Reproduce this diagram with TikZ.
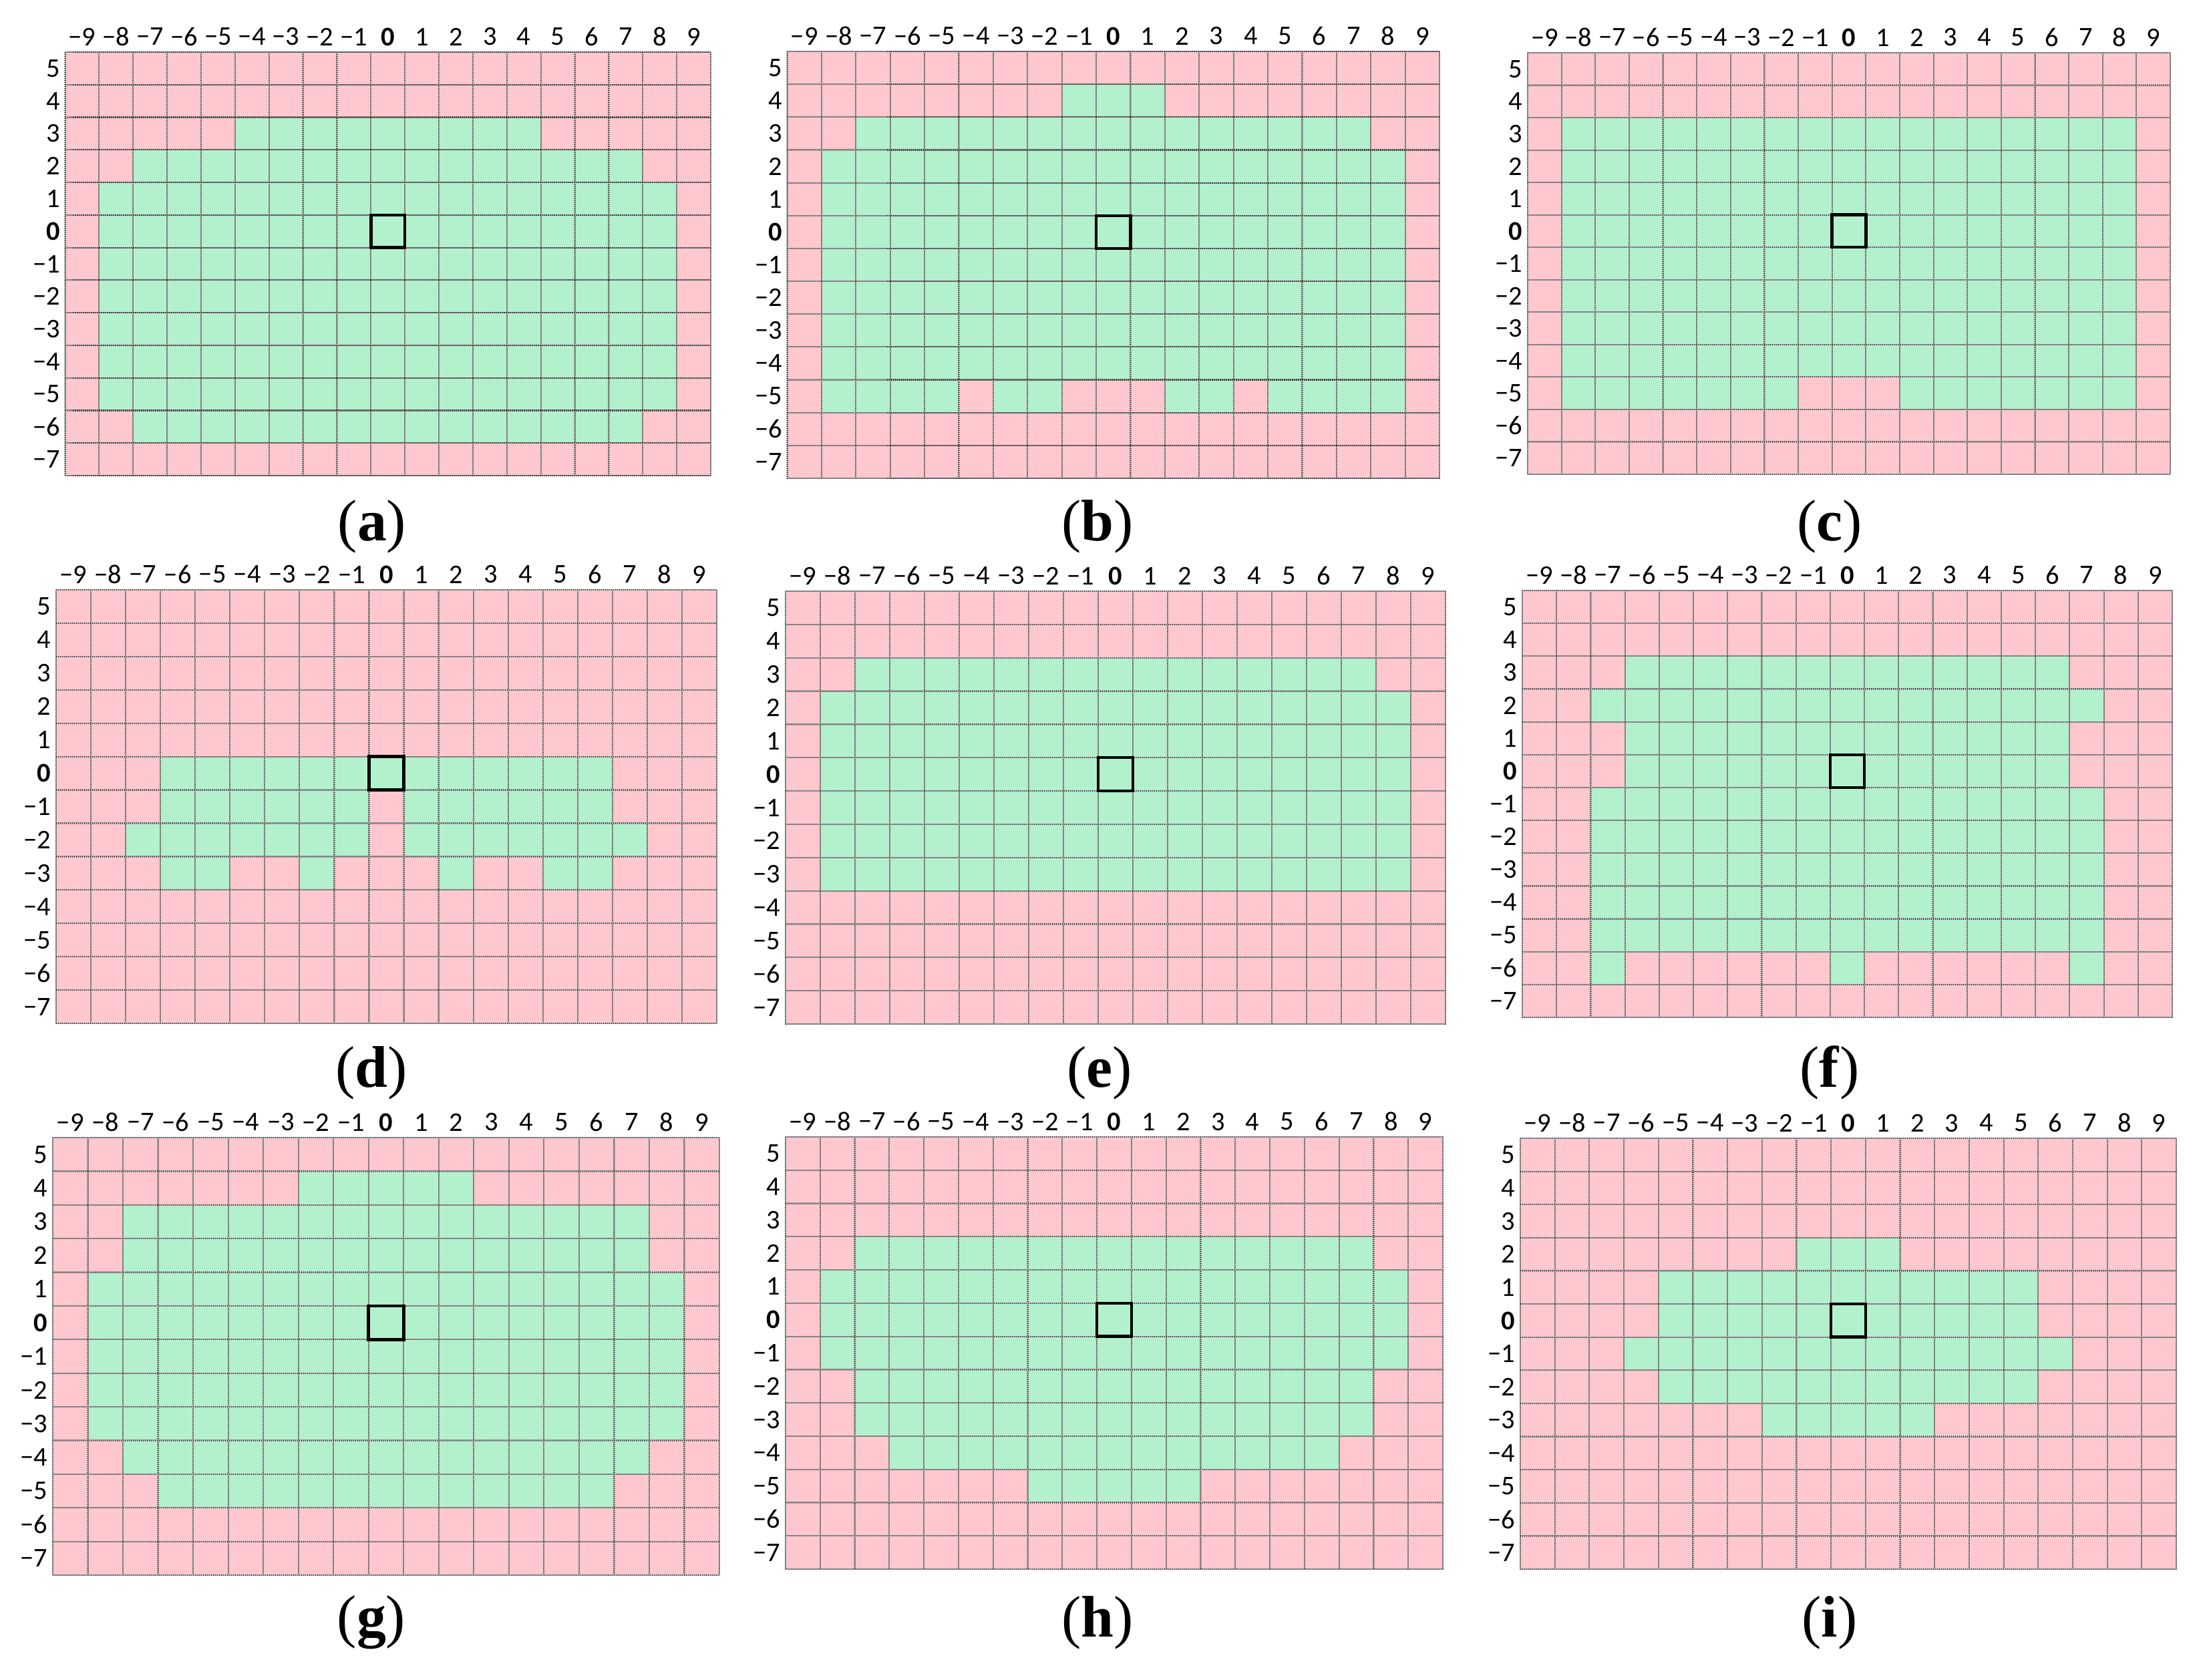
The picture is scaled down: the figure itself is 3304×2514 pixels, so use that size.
\documentclass[tikz,border=0pt]{standalone}
\usepackage{fontspec}
\setmainfont{Carlito}
\newfontfamily\capfont{Liberation Serif}
\definecolor{cellpink}{RGB}{255,199,206}
\definecolor{cellgreen}{RGB}{179,240,204}
\definecolor{gridlight}{RGB}{165,165,165}
\definecolor{griddark}{RGB}{70,70,70}
\tikzset{
  pinkcell/.style={fill=cellpink},
  greencell/.style={fill=cellgreen},
  gridbase/.style={draw=gridlight, line width=0.2mm},
  griddots/.style={draw=griddark, line width=0.22mm, dash pattern=on 0.12mm off 0.18mm},
  centresq/.style={draw=black, line width=0.45mm},
  hlab/.style={font=\fontsize{11.5}{13}\selectfont, inner sep=0pt, anchor=center},
  rlab/.style={font=\fontsize{11.5}{13}\selectfont, inner sep=0pt, anchor=east},
  plab/.style={font=\capfont\fontsize{25}{30}\selectfont, inner sep=0pt, anchor=center},
}
\newcommand\axlab[1]{\ifnum#1<0 −\the\numexpr 0-(#1)\relax\else\ifnum#1=0 \textbf{0}\else#1\fi\fi}
% #1 name, #2 L, #3 T, #4 R, #5 B, #6 green rows, #7 #8 caption position, #9 letter
\newcommand\gridpanel[9]{%
  \pgfmathsetmacro\pL{#2}%
  \pgfmathsetmacro\pT{#3}%
  \pgfmathsetmacro\pR{#4}%
  \pgfmathsetmacro\pB{#5}%
  \pgfmathsetmacro\cw{(#4-#2)/19}%
  \pgfmathsetmacro\ch{(#5-#3)/13}%
  \path[pinkcell] (\pL,\pT) rectangle (\pR,\pB);
  \foreach \yy/\xa/\xb in {#6}{%
    \path[greencell] ({\pL+(\xa+9)*\cw},{\pT+(5-(\yy))*\ch}) rectangle ({\pL+(\xb+10)*\cw},{\pT+(6-(\yy))*\ch});
  }
  \foreach \k in {0,...,19}{%
    \path[gridbase] ({\pL+\k*\cw},\pT) -- ({\pL+\k*\cw},\pB);
    \path[griddots] ({\pL+\k*\cw},\pT) -- ({\pL+\k*\cw},\pB);
  }
  \foreach \k in {0,...,13}{%
    \path[gridbase] (\pL,{\pT+\k*\ch}) -- (\pR,{\pT+\k*\ch});
    \path[griddots] (\pL,{\pT+\k*\ch}) -- (\pR,{\pT+\k*\ch});
  }
  \path[centresq] ({\pL+9*\cw},{\pT+5*\ch}) rectangle ({\pL+10*\cw},{\pT+6*\ch});
  \foreach \i in {-9,...,9}{%
    \node[hlab] (#1h\i) at ({\pL+(\i+9.5)*\cw},{\pT-23}) {\axlab{\i}};
  }
  \foreach \j in {-7,...,5}{%
    \node[rlab] (#1r\j) at ({\pL-7},{\pT+(5.5-(\j))*\ch}) {\axlab{\j}};
  }
  \node[plab] (#1cap) at (#7,#8) {(\textbf{#9})};
}
\begin{document}
\begin{tikzpicture}[x=0.1mm,y=-0.1mm]
\path[fill=white,use as bounding box] (0,0) rectangle (3304,2514);
\gridpanel{a}{97.5}{78}{1064}{712}{3/-4/4, 2/-7/7, 1/-8/8, 0/-8/8, -1/-8/8, -2/-8/8, -3/-8/8, -4/-8/8, -5/-8/8, -6/-7/7}{557}{788}{a}
\gridpanel{b}{1178.5}{77}{2155}{716}{4/-1/1, 3/-7/7, 2/-8/8, 1/-8/8, 0/-8/8, -1/-8/8, -2/-8/8, -3/-8/8, -4/-8/8, -5/-8/-5, -5/-3/-2, -5/2/3, -5/5/8}{1643}{788}{b}
\gridpanel{c}{2287}{79}{3249}{710}{3/-8/8, 2/-8/8, 1/-8/8, 0/-8/8, -1/-8/8, -2/-8/8, -3/-8/8, -4/-8/8, -5/-8/-2, -5/2/8}{2739}{788}{c}
\gridpanel{d}{84}{883}{1073}{1532}{0/-6/6, -1/-6/-1, -1/1/6, -2/-7/-1, -2/1/7, -3/-6/-5, -3/-2/-2, -3/2/2, -3/5/6}{556}{1606}{d}
\gridpanel{e}{1176}{885}{2164}{1533}{3/-7/7, 2/-8/8, 1/-8/8, 0/-8/8, -1/-8/8, -2/-8/8, -3/-8/8}{1646}{1606}{e}
\gridpanel{f}{2279}{884}{3252}{1523}{3/-6/6, 2/-7/7, 1/-6/6, 0/-6/6, -1/-7/7, -2/-7/7, -3/-7/7, -4/-7/7, -5/-7/7, -6/-7/-7, -6/0/0, -6/7/7}{2739}{1606}{f}
\gridpanel{g}{79}{1703}{1077}{2358}{4/-2/2, 3/-7/7, 2/-7/7, 1/-8/8, 0/-8/8, -1/-8/8, -2/-8/8, -3/-8/8, -4/-7/7, -5/-6/6}{556}{2429}{g}
\gridpanel{h}{1176}{1702}{2160}{2349}{2/-7/7, 1/-8/8, 0/-8/8, -1/-8/8, -2/-7/7, -3/-7/7, -4/-6/6, -5/-2/2}{1643}{2429}{h}
\gridpanel{i}{2276}{1704}{3258}{2349}{2/-1/1, 1/-5/5, 0/-5/5, -1/-6/6, -2/-5/5, -3/-2/2}{2739}{2429}{i}
\end{tikzpicture}
\end{document}
